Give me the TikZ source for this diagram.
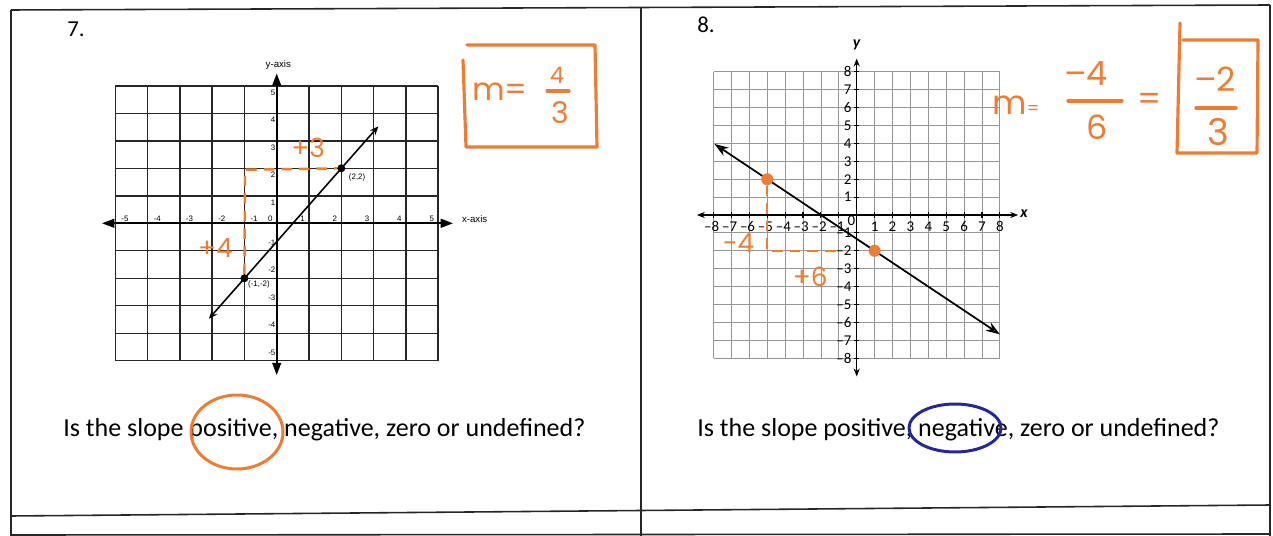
\documentclass[tikz,border=0pt]{standalone}
\usepackage{fontspec}
\setmainfont{Carlito}
\newfontfamily\labfont{Liberation Sans}
\newfontfamily\handfont{Poppins}
\usetikzlibrary{arrows.meta}
\definecolor{marker}{RGB}{237,125,52}
\definecolor{pen}{RGB}{38,38,150}
\definecolor{gridgray}{RGB}{150,150,150}

\begin{document}
\begin{tikzpicture}[x=0.02cm, y=-0.02cm]
\tikzset{frame/.style={draw=black!85, line width=0.9pt},
  grid7/.style={draw=black!85, line width=0.8pt},
  axis7/.style={line width=1.1pt, {Triangle[length=7pt,width=5pt]}-{Triangle[length=7pt,width=5pt]}},
  line7/.style={line width=0.9pt, {Stealth[length=5pt,width=4pt]}-{Stealth[length=5pt,width=4pt]}},
  dot7/.style={circle, fill=black, inner sep=0pt, minimum size=0.16cm},
  lab7/.style={font=\labfont\fontsize{4.5}{5}\selectfont, inner sep=0pt},
  grid8/.style={draw=gridgray, line width=0.45pt},
  axis8/.style={line width=0.6pt, {Stealth[length=4.5pt,width=3.5pt]}-{Stealth[length=4.5pt,width=3.5pt]}},
  line8/.style={line width=1pt, {Stealth[length=8pt,width=5.5pt,fill=gray!60]}-{Stealth[length=8pt,width=5.5pt,fill=gray!60]}},
  dot8/.style={circle, fill=marker, inner sep=0pt, minimum size=0.24cm},
  lab8/.style={font=\fontsize{8.5}{9}\selectfont, inner sep=0pt},
  hand/.style={text=marker, font=\handfont\fontsize{15}{15}\selectfont, inner sep=0pt},
  bighand/.style={text=marker, font=\handfont\fontsize{19}{19}\selectfont, inner sep=0pt},
  dashmark/.style={draw=marker, line width=1.4pt, dash pattern=on 6pt off 4pt},
  ink/.style={draw=marker, line width=1.8pt, line cap=round, line join=round},
  question/.style={font=\fontsize{14.8}{17}\selectfont, anchor=base west, inner sep=0pt}}
\useasboundingbox (0,0) rectangle (1273,536);

% table
\draw[frame] (11,10) -- (1270,5);
\draw[frame] (11,10) -- (11,536);
\draw[frame] (641,8) -- (641,536);
\draw[frame] (1270,5) -- (1270,536);
\draw[frame] (11,516) -- (1270,505);
\draw[frame] (11,535) -- (1270,534);

\node[font=\fontsize{13}{13}\selectfont] (num7) at (76,29) {7.};
\node[font=\fontsize{13}{13}\selectfont] (num8) at (706,25) {8.};

% problem 7
\begin{scope}[shift={(276.7,223.3)}, x=0.646cm, y=0.55cm]
  \foreach \i in {-5,...,5} {
    \draw[grid7] (\i,-5) -- (\i,5);
    \draw[grid7] (-5,\i) -- (5,\i);
  }
  \coordinate (xw7) at (-5.41,0);
  \coordinate (xe7) at (5.46,0);
  \coordinate (yn7) at (0,5.45);
  \coordinate (ys7) at (0,-5.52);
  \draw[axis7] (xw7) -- (xe7);
  \draw[axis7] (ys7) -- (yn7);
  \node[lab7, font=\labfont\fontsize{5.5}{6}\selectfont] (xname7) at (6.13,0.15) {x-axis};
  \node[lab7, font=\labfont\fontsize{5.5}{6}\selectfont] (yname7) at (0.05,5.76) {y-axis};
  \foreach \i [count=\k] in {1,...,5} {
    \node[lab7] (xp7\k) at (\i-0.2,0.18) {\i};
    \node[lab7] (xn7\k) at (-\i+0.3,0.18) {-\i};
    \node[lab7, anchor=east] (yp7\k) at (-0.03,\i-0.25) {\i};
    \node[lab7, anchor=east] (yn7\k) at (-0.03,-\i+0.3) {-\i};
  }
  \node[lab7] (zero7) at (-0.2,0.18) {0};
  % line through the two points
  \coordinate (la7) at (-2.1,-3.47);
  \coordinate (lb7) at (3.15,3.53);
  \draw[line7] (la7) -- (lb7);
  \node[dot7] (pa7) at (-1,-2) {};
  \node[dot7] (pb7) at (2,2) {};
  \node[lab7] (pal7) at (-0.55,-2.22) {(-1,-2)};
  \node[lab7] (pbl7) at (2.49,1.66) {(2,2)};
  % rise and run
  \coordinate (c7) at (-0.98,1.95);
  \draw[dashmark] (pa7) -- (c7) -- (pb7);
  \node[hand] (run7) at (0.97,2.74) {+3};
  \node[hand] (rise7) at (-1.9,-0.9) {+4};
\end{scope}

% slope 7
\draw[ink] (463,60) -- (466,147) -- (597,147) -- (595,45) -- (467,45);
\node[hand, font=\handfont\fontsize{18}{18}\selectfont] (m7) at (500,92) {m=};
\node[hand, font=\handfont\fontsize{13}{13}\selectfont] (num7a) at (557,75) {4};
\draw[ink] (547,91) -- (569,91);
\node[hand, font=\handfont\fontsize{17}{17}\selectfont] (den7) at (560,113) {3};

% problem 8
\begin{scope}[shift={(856.7,215)}, x=0.358cm, y=0.358cm]
  \foreach \i in {-8,...,8} {
    \draw[grid8] (\i,-8) -- (\i,8);
    \draw[grid8] (-8,\i) -- (8,\i);
  }
  \coordinate (xw8) at (-8.93,0);
  \coordinate (xe8) at (9.02,0);
  \coordinate (yn8) at (0,8.74);
  \coordinate (ys8) at (0,-9.02);
  \draw[axis8] (xw8) -- (xe8);
  \draw[axis8] (ys8) -- (yn8);
  \node[lab8, font=\bfseries\itshape\fontsize{9}{9}\selectfont] (xname8) at (9.35,0.05) {x};
  \node[lab8, font=\bfseries\itshape\fontsize{9}{9}\selectfont] (yname8) at (0,9.5) {y};
  \foreach \i [count=\k] in {1,...,8} {
    \draw[line width=0.6pt] (\i,-0.15) -- (\i,0.15);
    \draw[line width=0.6pt] (-\i,-0.15) -- (-\i,0.15);
    \draw[line width=0.6pt] (-0.15,\i) -- (0.15,\i);
    \draw[line width=0.6pt] (-0.15,-\i) -- (0.15,-\i);
    \node[lab8] (xp8\k) at (\i,-0.65) {\i};
    \node[lab8] (xn8\k) at (-\i-0.1,-0.65) {--\i};
    \node[lab8, anchor=east] (yp8\k) at (-0.28,\i) {\i};
    \node[lab8, anchor=east] (yn8\k) at (-0.28,-\i) {--\i};
  }
  \node[lab8] (zero8) at (-0.3,-0.3) {0};
  % line through the two points
  \coordinate (la8) at (-7.95,3.97);
  \coordinate (lb8) at (8,-6.67);
  \draw[line8] (la8) -- (lb8);
  \node[dot8] (pa8) at (-5,2) {};
  \node[dot8] (pb8) at (1,-2) {};
  % rise and run
  \coordinate (c8) at (-5,-2);
  \coordinate (e8) at (-1,-2);
  \draw[dashmark] (pa8) -- (c8) -- (e8);
  \node[hand] (rise8) at (-6.6,-1.56) {-4};
  \node[hand] (run8) at (-2.6,-3.46) {+6};
\end{scope}

% slope 8
\node[bighand] (m8) at (1016,105) {m\fontsize{10}{10}\selectfont=};
\node[bighand] (num8a) at (1086,74) {–4};
\draw[ink] (1068,101) -- (1122,101);
\node[bighand] (den8) at (1097,127) {6};
\node[bighand] (eq8) at (1150,102) {=};
\draw[ink] (1180,23) -- (1177,153) -- (1257,153) -- (1258,40) -- (1183,40);
\node[bighand] (num8b) at (1215,79) {–2};
\draw[ink] (1196,108) -- (1236,108);
\node[bighand, font=\handfont\fontsize{21}{21}\selectfont] (den8b) at (1218,132) {3};

% questions
\node[question] (q7) at (63,436) {Is the slope positive, negative, zero or undefined?};
\node[question] (q8) at (697,436) {Is the slope positive, negative, zero or undefined?};
\draw[draw=marker, line width=1.7pt] (237,432) ellipse [x radius=0.92cm, y radius=0.74cm];
\draw[draw=pen, line width=1.7pt] (955,428) ellipse [x radius=0.92cm, y radius=0.48cm];

\end{tikzpicture}
\end{document}
